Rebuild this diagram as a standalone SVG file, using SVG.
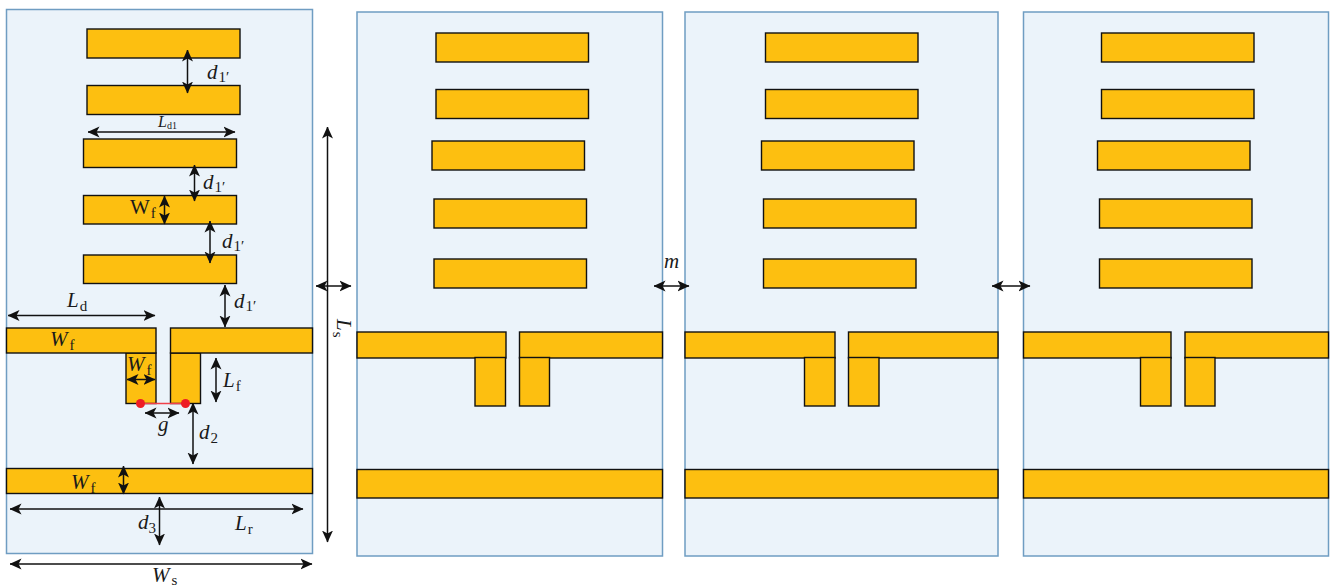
<svg xmlns="http://www.w3.org/2000/svg" width="1332" height="586" viewBox="0 0 1332 586">
<style>
.sub{fill:#ebf3fa;stroke:#6f9dc2;stroke-width:1.5}
.m{fill:#fdbf10;stroke:#111;stroke-width:1.4}
.d{fill:none;stroke:#111;stroke-width:1.5;marker-start:url(#a);marker-end:url(#a)}
text{font-family:"Liberation Serif","DejaVu Serif",serif;fill:#1a1a1a;font-size:21px}
.i{font-style:italic}
.s{font-size:15px;font-style:normal}
</style>
<defs>
<marker id="a" viewBox="0 0 12 12" refX="11.5" refY="6" markerWidth="12" markerHeight="12" markerUnits="userSpaceOnUse" orient="auto-start-reverse">
<path d="M0,0.5L12,6L0,11.5L3,6Z" fill="#111"/>
</marker>
</defs>
<g id="panel-1">
<rect class="sub" x="6.5" y="9.5" width="306" height="544"/>
<rect class="m" x="87" y="29" width="153" height="29"/>
<rect class="m" x="87" y="85.5" width="153" height="29"/>
<rect class="m" x="83.5" y="139" width="153" height="28.5"/>
<rect class="m" x="83.5" y="195.5" width="153" height="28.5"/>
<rect class="m" x="83.5" y="255" width="153" height="28.5"/>
<rect class="m" x="126" y="353" width="30" height="50.5"/>
<rect class="m" x="170.5" y="353" width="30" height="50.5"/>
<rect class="m" x="6.5" y="328" width="149.5" height="25"/>
<rect class="m" x="170.5" y="328" width="142" height="25"/>
<rect class="m" x="6.5" y="468.5" width="306" height="25"/>
<path d="M141,403.5H185.500" fill="none" stroke="#f0414a" stroke-width="1.5"/>
<circle cx="140.500" cy="403.500" r="4.500" fill="#ee1c25"/>
<circle cx="185.500" cy="403.500" r="4.500" fill="#ee1c25"/>
</g>
<g id="panel-2">
<rect class="sub" x="357" y="12" width="305.500" height="544"/>
<rect class="m" x="436" y="33" width="152.500" height="29"/>
<rect class="m" x="436" y="89.500" width="152.500" height="29"/>
<rect class="m" x="432" y="141" width="152.500" height="29"/>
<rect class="m" x="434" y="199" width="152.500" height="29"/>
<rect class="m" x="434" y="259" width="152.500" height="29"/>
<rect class="m" x="357" y="332" width="149" height="26"/>
<rect class="m" x="519.500" y="332" width="143" height="26"/>
<rect class="m" x="475" y="357.500" width="30.500" height="48.500"/>
<rect class="m" x="519.500" y="357.500" width="30" height="48.500"/>
<rect class="m" x="357" y="469.500" width="305.500" height="28.500"/>
</g>
<g id="panel-3">
<rect class="sub" x="685" y="12" width="313" height="544"/>
<rect class="m" x="765.500" y="33" width="152.500" height="29"/>
<rect class="m" x="765.500" y="89.500" width="152.500" height="29"/>
<rect class="m" x="761.500" y="141" width="152.500" height="29"/>
<rect class="m" x="763.500" y="199" width="152.500" height="29"/>
<rect class="m" x="763.500" y="259" width="152.500" height="29"/>
<rect class="m" x="685" y="332" width="150" height="26"/>
<rect class="m" x="848.500" y="332" width="149.500" height="26"/>
<rect class="m" x="804.500" y="357.500" width="30.500" height="48.500"/>
<rect class="m" x="848.500" y="357.500" width="30.500" height="48.500"/>
<rect class="m" x="685" y="469.500" width="313" height="28.500"/>
</g>
<g id="panel-4">
<rect class="sub" x="1023.500" y="12" width="305" height="544"/>
<rect class="m" x="1101.500" y="33" width="152.500" height="29"/>
<rect class="m" x="1101.500" y="89.500" width="152.500" height="29"/>
<rect class="m" x="1097.500" y="141" width="152.500" height="29"/>
<rect class="m" x="1099.500" y="199" width="152.500" height="29"/>
<rect class="m" x="1099.500" y="259" width="152.500" height="29"/>
<rect class="m" x="1023.500" y="332" width="147.500" height="26"/>
<rect class="m" x="1185" y="332" width="143.500" height="26"/>
<rect class="m" x="1140.500" y="357.500" width="30.500" height="48.500"/>
<rect class="m" x="1185" y="357.500" width="30" height="48.500"/>
<rect class="m" x="1023.500" y="469.500" width="305" height="28.500"/>
</g>
<g id="connectors">
<path class="d" d="M187.500,50V93"/>
<path class="d" d="M88,132H235"/>
<path class="d" d="M194.500,165V201"/>
<path class="d" d="M164.500,196V224"/>
<path class="d" d="M210,221V263"/>
<path class="d" d="M225,285V327"/>
<path class="d" d="M8,315.500H155"/>
<path class="d" d="M127,379.500H155"/>
<path class="d" d="M216,358V402"/>
<path class="d" d="M145,413H179"/>
<path class="d" d="M193,403V464"/>
<path class="d" d="M123.500,466V494"/>
<path class="d" d="M10,509H303"/>
<path class="d" d="M159.500,497V545"/>
<path class="d" d="M10,564H312"/>
<path class="d" d="M327.500,127V542"/>
<path class="d" d="M316,286H351"/>
<path class="d" d="M654,286H689"/>
<path class="d" d="M992,286H1030"/>
</g>
<g id="labels">
<text class="i" x="207" y="79">d<tspan class="s" dx="1" dy="3">1′</tspan></text>
<text class="i" x="158" y="127" style="font-size:16px">L<tspan dy="2" style="font-size:10px;font-style:normal">d1</tspan></text>
<text class="i" x="203" y="189">d<tspan class="s" dx="1" dy="3">1′</tspan></text>
<text x="130" y="214">W<tspan class="s" dx="1" dy="4">f</tspan></text>
<text class="i" x="222" y="248">d<tspan class="s" dx="1" dy="3">1′</tspan></text>
<text class="i" x="234" y="308">d<tspan class="s" dx="1" dy="3">1′</tspan></text>
<text class="i" x="67" y="307">L<tspan class="s" dx="1" dy="4">d</tspan></text>
<text class="i" x="50" y="346">W<tspan class="s" dx="2" dy="4">f</tspan></text>
<text class="i" x="127" y="371">W<tspan class="s" dx="2" dy="4">f</tspan></text>
<text class="i" x="223" y="387">L<tspan class="s" dx="1" dy="4">f</tspan></text>
<text class="i" x="158" y="431">g</text>
<text class="i" x="199" y="439">d<tspan class="s" dx="1" dy="4">2</tspan></text>
<text class="i" x="71" y="489">W<tspan class="s" dx="2" dy="4">f</tspan></text>
<text class="i" x="138" y="529">d<tspan class="s" dy="4">3</tspan></text>
<text class="i" x="235" y="530">L<tspan class="s" dx="1" dy="4">r</tspan></text>
<text class="i" x="152" y="582">W<tspan class="s" dx="2" dy="3">s</tspan></text>
<text class="i" transform="translate(337,319) rotate(90)">L<tspan class="s" dx="1" dy="4">s</tspan></text>
<text class="i" x="664" y="268">m</text>
</g>
</svg>
